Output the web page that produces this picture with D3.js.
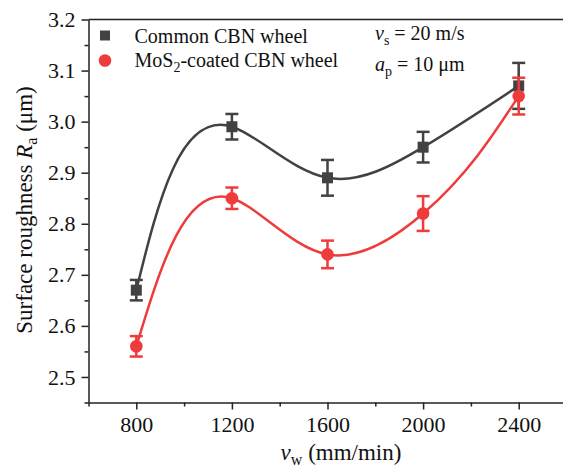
<!DOCTYPE html>
<html>
<head>
<meta charset="utf-8">
<script src="https://cdn.jsdelivr.net/npm/d3@7"></script>
<style>
  body { margin: 0; background: #fff; }
  svg { display: block; font-family: "Liberation Serif", "Times New Roman", serif; }
</style>
</head>
<body>
<svg id="chart" width="563" height="469"></svg>
<script>
const speeds = [800, 1200, 1600, 2000, 2400];
const commonRa = [2.67, 2.99, 2.89, 2.95, 3.07];
const commonErr = [0.02, 0.025, 0.035, 0.03, 0.045];
const coatedRa = [2.56, 2.85, 2.74, 2.82, 3.05];
const coatedErr = [0.02, 0.021, 0.027, 0.034, 0.036];
const xTicks = [800, 1200, 1600, 2000, 2400];
const yTicks = [2.5, 2.6, 2.7, 2.8, 2.9, 3.0, 3.1, 3.2];

const svg = d3.select('#chart');
const plotLeft = 88.5;
const plotRight = 566.5;
const plotTop = 19.5;
const plotBottom = 402.5;

const x = d3.scaleLinear().domain([600, 2600]).range([plotLeft, plotRight]);
const y = d3.scaleLinear().domain([2.45, 3.2]).range([plotBottom, plotTop]);

const axisColor = '#222';

// parametric natural cubic spline, used as a d3 curve
function solveSpline(t, v) {
  const n = v.length;
  const h = d3.range(n - 1).map((i) => t[i + 1] - t[i]);
  const a = new Array(n).fill(0);
  const b = new Array(n).fill(0);
  const c = new Array(n).fill(0);
  const r = new Array(n).fill(0);
  b[0] = 2; c[0] = 1; r[0] = 3 * (v[1] - v[0]) / h[0];
  for (let i = 1; i < n - 1; i++) {
    a[i] = h[i];
    b[i] = 2 * (h[i - 1] + h[i]);
    c[i] = h[i - 1];
    r[i] = 3 * (h[i] * (v[i] - v[i - 1]) / h[i - 1] + h[i - 1] * (v[i + 1] - v[i]) / h[i]);
  }
  a[n - 1] = 1; b[n - 1] = 2; r[n - 1] = 3 * (v[n - 1] - v[n - 2]) / h[n - 2];
  for (let i = 1; i < n; i++) {
    const m = a[i] / b[i - 1];
    b[i] -= m * c[i - 1];
    r[i] -= m * r[i - 1];
  }
  const D = new Array(n);
  D[n - 1] = r[n - 1] / b[n - 1];
  for (let i = n - 2; i >= 0; i--) D[i] = (r[i] - c[i] * D[i + 1]) / b[i];
  return D;
}

function ParamSpline(context) { this._context = context; }
ParamSpline.prototype = {
  areaStart() {}, areaEnd() {},
  lineStart() { this._px = []; this._py = []; },
  point(px, py) { this._px.push(+px); this._py.push(+py); },
  lineEnd() {
    const px = this._px, py = this._py, n = px.length;
    const ctx = this._context;
    const t = [0];
    for (let i = 1; i < n; i++) t.push(t[i - 1] + Math.pow(Math.hypot(px[i] - px[i - 1], py[i] - py[i - 1]), 1.2));
    const dx = solveSpline(t, px), dy = solveSpline(t, py);
    ctx.moveTo(px[0], py[0]);
    for (let i = 0; i < n - 1; i++) {
      const h = (t[i + 1] - t[i]) / 3;
      ctx.bezierCurveTo(px[i] + dx[i] * h, py[i] + dy[i] * h,
        px[i + 1] - dx[i + 1] * h, py[i + 1] - dy[i + 1] * h,
        px[i + 1], py[i + 1]);
    }
  },
};
const curveParamSpline = (context) => new ParamSpline(context);

// frame top line
svg.append('line')
  .attr('x1', plotLeft).attr('x2', plotRight)
  .attr('y1', plotTop).attr('y2', plotTop)
  .attr('stroke', axisColor).attr('stroke-width', 1.5);

// minor ticks
const xMinor = d3.range(600, 2601, 200).filter((v) => !xTicks.includes(v));
const yMinor = d3.range(2.45, 3.2, 0.1).map((v) => +v.toFixed(2));

const xAxisG = svg.append('g')
  .attr('transform', `translate(0, ${plotBottom})`);
xAxisG.call(d3.axisBottom(x).tickValues(xMinor).tickSize(4).tickFormat(''));
xAxisG.call((g) => g.select('.domain').remove());
svg.append('g')
  .attr('transform', `translate(0, ${plotBottom})`)
  .call(d3.axisBottom(x).tickValues(xTicks).tickSize(7).tickSizeOuter(0).tickPadding(7).tickFormat(d3.format('d')));

const yAxisG = svg.append('g')
  .attr('transform', `translate(${plotLeft}, 0)`);
yAxisG.call(d3.axisLeft(y).tickValues(yMinor).tickSize(4).tickFormat(''));
yAxisG.call((g) => g.select('.domain').remove());
svg.append('g')
  .attr('transform', `translate(${plotLeft}, 0)`)
  .call(d3.axisLeft(y).tickValues(yTicks).tickSize(7).tickSizeOuter(0).tickPadding(6).tickFormat(d3.format('.1f')));

svg.selectAll('.domain, .tick line')
  .attr('stroke', axisColor).attr('stroke-width', 1.5);
svg.selectAll('.tick text')
  .attr('font-family', '"Liberation Serif", serif')
  .attr('font-size', 22)
  .attr('fill', '#111');

// series
const series = [
  { ra: commonRa, err: commonErr, color: '#424242', shape: 'square' },
  { ra: coatedRa, err: coatedErr, color: '#ef3b3b', shape: 'circle' },
];

const line = d3.line()
  .x((d) => x(d[0]))
  .y((d) => y(d[1]))
  .curve(curveParamSpline);

series.forEach((s) => {
  const pts = speeds.map((v, i) => [v, s.ra[i], s.err[i]]);
  const g = svg.append('g');
  g.append('path')
    .datum(pts)
    .attr('d', line)
    .attr('fill', 'none')
    .attr('stroke', s.color)
    .attr('stroke-width', 2.5);

  const eb = g.selectAll('.eb').data(pts).enter().append('g');
  eb.append('line')
    .attr('x1', (d) => x(d[0])).attr('x2', (d) => x(d[0]))
    .attr('y1', (d) => y(d[1] - d[2])).attr('y2', (d) => y(d[1] + d[2]))
    .attr('stroke', s.color).attr('stroke-width', 2.5);
  [-1, 1].forEach((sg) => {
    eb.append('line')
      .attr('x1', (d) => x(d[0]) - 6.5).attr('x2', (d) => x(d[0]) + 6.5)
      .attr('y1', (d) => y(d[1] + sg * d[2])).attr('y2', (d) => y(d[1] + sg * d[2]))
      .attr('stroke', s.color).attr('stroke-width', 2.5);
  });

  if (s.shape === 'square') {
    g.selectAll('.mk').data(pts).enter().append('rect')
      .attr('x', (d) => x(d[0]) - 5.5)
      .attr('y', (d) => y(d[1]) - 5.5)
      .attr('width', 11).attr('height', 11)
      .attr('fill', s.color);
  } else {
    g.selectAll('.mk').data(pts).enter().append('circle')
      .attr('cx', (d) => x(d[0]))
      .attr('cy', (d) => y(d[1]))
      .attr('r', 6.3)
      .attr('fill', s.color);
  }
});

// legend
svg.append('rect')
  .attr('x', 100).attr('y', 30.5).attr('width', 10).attr('height', 10)
  .attr('fill', '#424242');
svg.append('circle')
  .attr('cx', 105).attr('cy', 60.5).attr('r', 6.3)
  .attr('fill', '#ef3b3b');

svg.append('text')
  .attr('x', 134.5).attr('y', 43.3)
  .attr('font-size', 20).attr('fill', '#111')
  .text('Common CBN wheel');

const t2 = svg.append('text')
  .attr('x', 134.5).attr('y', 66.7)
  .attr('font-size', 20).attr('fill', '#111');
t2.append('tspan').text('MoS');
t2.append('tspan').attr('font-size', 14).attr('dy', 5).text('2');
t2.append('tspan').attr('dy', -5).text('-coated CBN wheel');

// conditions
const c1 = svg.append('text')
  .attr('x', 375).attr('y', 40)
  .attr('font-size', 20).attr('fill', '#111');
c1.append('tspan').attr('font-style', 'italic').text('v');
c1.append('tspan').attr('font-size', 14).attr('dy', 5).text('s');
c1.append('tspan').attr('dy', -5).text(' = 20 m/s');

const c2 = svg.append('text')
  .attr('x', 375).attr('y', 71)
  .attr('font-size', 20).attr('fill', '#111');
c2.append('tspan').attr('font-style', 'italic').text('a');
c2.append('tspan').attr('font-size', 14).attr('dy', 5).text('p');
c2.append('tspan').attr('dy', -5).text(' = 10 μm');

// axis titles
const xt = svg.append('text')
  .attr('x', 341).attr('y', 460)
  .attr('text-anchor', 'middle')
  .attr('font-size', 23).attr('fill', '#111');
xt.append('tspan').attr('font-style', 'italic').text('v');
xt.append('tspan').attr('font-size', 16).attr('dy', 5).text('w');
xt.append('tspan').attr('dy', -5).text(' (mm/min)');

const yt = svg.append('text')
  .attr('transform', 'translate(32, 210) rotate(-90)')
  .attr('text-anchor', 'middle')
  .attr('font-size', 23).attr('fill', '#111');
yt.append('tspan').text('Surface roughness ');
yt.append('tspan').attr('font-style', 'italic').text('R');
yt.append('tspan').attr('font-size', 16).attr('dy', 5).text('a');
yt.append('tspan').attr('dy', -5).text(' (μm)');
</script>
</body>
</html>
